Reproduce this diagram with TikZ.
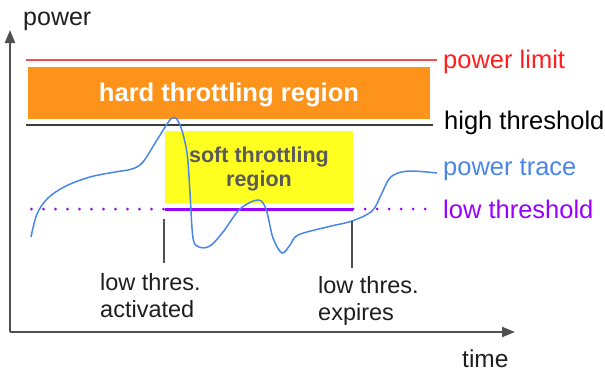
\documentclass[tikz,border=0pt]{standalone}
\usepackage{fontspec}
\setmainfont{Liberation Sans}
\usetikzlibrary{arrows.meta}
\definecolor{axisgray}{RGB}{80,80,80}
\definecolor{limitred}{RGB}{242,80,80}
\definecolor{textred}{RGB}{255,30,30}
\definecolor{hardorange}{RGB}{253,147,27}
\definecolor{softyellow}{RGB}{255,255,32}
\definecolor{softtext}{RGB}{90,90,90}
\definecolor{highline}{RGB}{60,60,60}
\definecolor{lowpurple}{RGB}{153,0,255}
\definecolor{traceblue}{RGB}{74,134,232}
\definecolor{labeldark}{RGB}{30,30,30}
\begin{document}
\begin{tikzpicture}[x=1pt,y=-1pt,
  lbl/.style={inner sep=0pt, anchor=base west},
  rightlbl/.style={lbl, font=\fontsize{25.5}{30}\selectfont},
  eventlbl/.style={lbl, font=\fontsize{23.5}{28}\selectfont, text=labeldark},
  axisline/.style={draw=axisgray, line width=2pt, -{Triangle[length=13pt,width=10pt]}},
  ticklinestyle/.style={draw=axisgray, line width=1.5pt},
  dotline/.style={draw=lowpurple, line width=3pt, line cap=round, dash pattern=on 0pt off 12pt}]
\useasboundingbox (0,0) rectangle (605,375);
% regions
\fill[hardorange] (28,67) rectangle (430,119);
\fill[softyellow] (165,131) rectangle (353,203);
\node[inner sep=0pt, anchor=base, text=white, font=\bfseries\fontsize{25.6}{30}\selectfont] (hard) at (229,101) {hard throttling region};
\node[inner sep=0pt, anchor=base, text=softtext, font=\bfseries\fontsize{21.5}{25}\selectfont] (soft1) at (259,162) {soft throttling};
\node[inner sep=0pt, anchor=base, text=softtext, font=\bfseries\fontsize{21.5}{25}\selectfont] (soft2) at (259,186) {region};
% threshold lines
\coordinate (plA) at (26,60);
\coordinate (plB) at (437,60);
\draw[limitred, line width=1.5pt] (plA) -- (plB);
\coordinate (htA) at (26,125);
\coordinate (htB) at (433,125);
\draw[highline, line width=1.8pt] (htA) -- (htB);
\coordinate (ltA) at (31.5,209);
\coordinate (ltB) at (165,209);
\coordinate (ltC) at (353,209);
\coordinate (ltD) at (426,209);
\draw[dotline] (ltA) -- (ltB);
\draw[lowpurple, line width=3pt] (ltB) -- (ltC);
\draw[dotline] (ltC) -- (ltD);
% power trace
\draw[traceblue, line width=1.5pt] plot[smooth, tension=0.55] coordinates {
 (31,237) (37,214) (48,198) (66,186) (90,177) (115,172) (132,169) (143,162) (157,140) (172,118) (180,125) (187,153) (190,193) (193,238) (199,247) (210,246) (223,232) (240,209) (258,200) (266,209) (273,238) (282,253) (290,245) (298,235) (327,227) (352,221) (372,211) (381,195) (389,179) (398,173) (412,171) (437,173)};
% event ticks
\coordinate (actTop) at (164,219);
\coordinate (actBot) at (164,263);
\draw[ticklinestyle] (actTop) -- (actBot);
\coordinate (expTop) at (352,221);
\coordinate (expBot) at (352,268);
\draw[ticklinestyle] (expTop) -- (expBot);
\node[eventlbl] (act1) at (100,290) {low thres.};
\node[eventlbl] (act2) at (100,317) {activated};
\node[eventlbl] (exp1) at (318,293) {low thres.};
\node[eventlbl] (exp2) at (318,320) {expires};
% axes
\coordinate (origin) at (10,332);
\coordinate (ytop) at (10,30);
\coordinate (xend) at (515,332);
\draw[axisline] (origin) -- (ytop);
\draw[axisline] (origin) -- (xend);
\node[lbl, font=\fontsize{25}{30}\selectfont, text=labeldark] (powerlbl) at (23,25) {power};
\node[lbl, font=\fontsize{24.5}{30}\selectfont, text=labeldark] (timelbl) at (462,367) {time};
% right labels
\node[rightlbl, text=textred] (limitlbl) at (443,68) {power limit};
\node[rightlbl, text=black] (highlbl) at (444,129) {high threshold};
\node[rightlbl, text=traceblue] (tracelbl) at (443,175) {power trace};
\node[rightlbl, text=lowpurple] (lowlbl) at (443,218) {low threshold};
\end{tikzpicture}
\end{document}
